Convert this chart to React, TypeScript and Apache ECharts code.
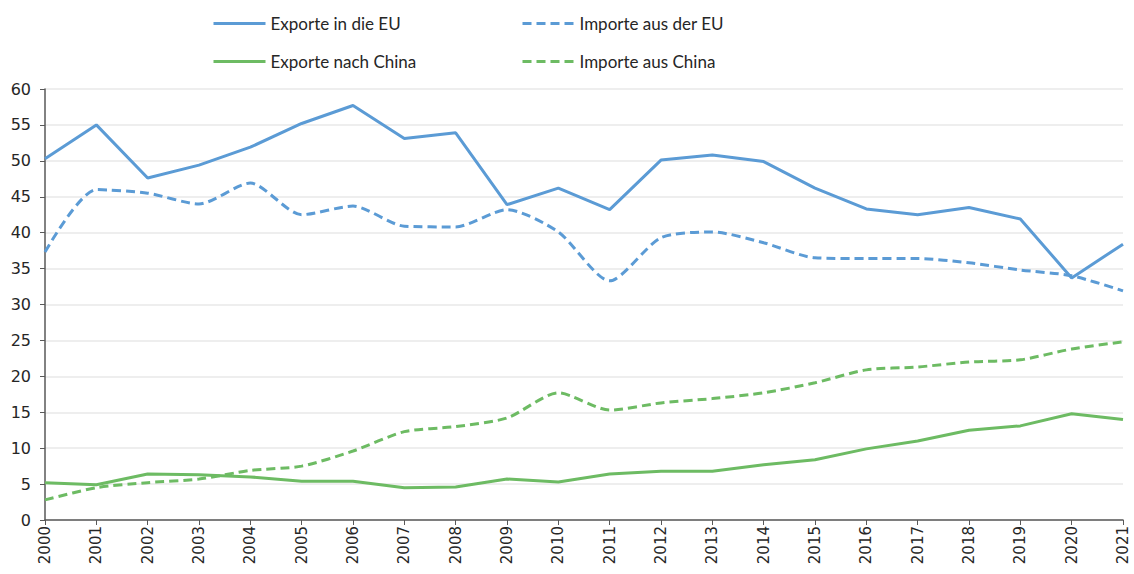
import React, { useEffect, useRef } from "react";
import * as echarts from "echarts";

const years = ["2000","2001","2002","2003","2004","2005","2006","2007","2008","2009","2010","2011","2012","2013","2014","2015","2016","2017","2018","2019","2020","2021"];
const exportsEU = [50.3, 55.0, 47.6, 49.4, 51.9, 55.2, 57.7, 53.1, 53.9, 43.9, 46.2, 43.2, 50.1, 50.8, 49.9, 46.2, 43.3, 42.5, 43.5, 41.9, 33.7, 38.4];
const importsEU = [37.3, 46.0, 45.5, 44.0, 46.9, 42.5, 43.7, 40.9, 40.8, 43.2, 40.1, 33.3, 39.3, 40.1, 38.6, 36.5, 36.4, 36.4, 35.8, 34.8, 34.0, 31.9];
const exportsCN = [5.2, 4.9, 6.4, 6.3, 6.0, 5.4, 5.4, 4.5, 4.6, 5.7, 5.3, 6.4, 6.8, 6.8, 7.7, 8.4, 9.9, 11.0, 12.5, 13.1, 14.8, 14.0];
const importsCN = [2.8, 4.5, 5.2, 5.7, 6.9, 7.5, 9.6, 12.3, 13.0, 14.2, 17.7, 15.3, 16.3, 16.9, 17.7, 19.1, 20.9, 21.3, 22.0, 22.3, 23.8, 24.8];
const names = ["Exporte in die EU", "Importe aus der EU", "Exporte nach China", "Importe aus China"];

const BLUE = "#5B9BD5";
const GREEN = "#6DBB63";
const FONT = "DejaVu Sans";

export default function App() {
  const ref = useRef<HTMLDivElement>(null);
  useEffect(() => {
    const chart = echarts.init(ref.current!, null, { renderer: "svg" });
    const legendBase = {
      itemWidth: 52,
      itemHeight: 14,
      itemGap: 0,
      itemStyle: { opacity: 0 },
      lineStyle: { width: 3 },
      textStyle: { fontFamily: "Lato", fontSize: 17, color: "#262626" },
      padding: 0,
    };
    const mk = (name: string, data: number[], color: string, dashed: boolean) => ({
      name,
      type: "line",
      data,
      symbol: "none",
      smooth: dashed ? 0.25 : false,
      lineStyle: { color, width: 3, type: dashed ? [9, 5] : "solid" },
      itemStyle: { color },
    });
    chart.setOption({
      animation: false,
      legend: [
        { ...legendBase, data: [names[0]], left: 212, top: 15 },
        { ...legendBase, data: [names[1]], left: 521, top: 15 },
        { ...legendBase, data: [names[2]], left: 212, top: 53 },
        { ...legendBase, data: [names[3]], left: 521, top: 53 },
      ],
      grid: { left: 45, right: 11, top: 89, bottom: 54, containLabel: false },
      xAxis: {
        type: "category",
        data: years,
        boundaryGap: false,
        axisLine: { lineStyle: { color: "#595959", width: 1.5 } },
        axisTick: { show: true, length: 5, interval: 0, lineStyle: { color: "#595959" } },
        axisLabel: { rotate: 90, interval: 0, fontFamily: FONT, fontSize: 15, color: "#262626", margin: 6 },
        splitLine: { show: false },
      },
      yAxis: {
        type: "value",
        min: 0,
        max: 60,
        interval: 5,
        axisLine: { show: true, lineStyle: { color: "#595959", width: 1.5 } },
        axisTick: { show: true, length: 5, lineStyle: { color: "#595959" } },
        axisLabel: { fontFamily: FONT, fontSize: 16, color: "#262626", margin: 14 },
        splitLine: { lineStyle: { color: "#EEEEEE", width: 2 } },
      },
      series: [
        mk(names[0], exportsEU, BLUE, false),
        mk(names[1], importsEU, BLUE, true),
        mk(names[2], exportsCN, GREEN, false),
        mk(names[3], importsCN, GREEN, true),
      ],
    });
    return () => chart.dispose();
  }, []);
  return <div ref={ref} style={{ width: 1134, height: 574, position: "absolute", left: 0, top: 0 }} />;
}
